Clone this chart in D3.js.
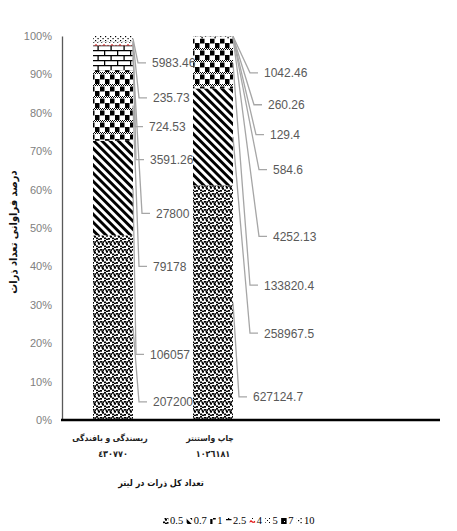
<!DOCTYPE html>
<html><head><meta charset="utf-8">
<script src="https://cdn.jsdelivr.net/npm/d3@7/dist/d3.min.js"></script>
<style>
html,body{margin:0;padding:0;background:#fff;}
svg{display:block;}
</style></head>
<body>
<svg id="chart" width="457" height="531"></svg>
<script>
// ---- data ----
const categories = ["ریسندگی و بافندگی", "چاپ واستنتر"];
const categoryTotals = ["٤٣٠٧٧٠", "١٠٢٦١٨١"];
const seriesNames = ["0.5", "0.7", "1", "2.5", "4", "5", "7", "10"];
const size05 = [207200, 627124.7];
const size07 = [106057, 258967.5];
const size1 = [79178, 133820.4];
const size25 = [27800, 4252.13];
const size4 = [3591.26, 584.6];
const size5 = [724.53, 129.4];
const size7 = [235.73, 260.26];
const size10 = [5983.46, 1042.46];
const yTicks = [0, 0.1, 0.2, 0.3, 0.4, 0.5, 0.6, 0.7, 0.8, 0.9, 1];
const yTitle = "درصد فراوانی تعداد ذرات";
const xTitle = "تعداد کل ذرات در لیتر";

// label callout placement (axis fraction, offset from bar edge) per category, series order
const calloutLeft = [[0.047,20],[0.171,17],[0.400,20],[0.538,23],[0.678,17],[0.764,16],[0.839,20],[0.930,19]];
const calloutRight = [[0.060,20],[0.226,31],[0.351,31],[0.478,40],[0.652,40],[0.743,37],[0.821,35],[0.904,31]];
const callouts = [calloutLeft, calloutRight];

const seriesValues = [size05, size07, size1, size25, size4, size5, size7, size10];
const table = categories.map((c, i) => {
  const row = {category: c, index: i};
  seriesNames.forEach((s, j) => row[s] = seriesValues[j][i]);
  return row;
});

const svg = d3.select("#chart");
const defs = svg.append("defs");
const AR = "'DejaVu Sans Condensed', 'DejaVu Sans', sans-serif";

// ---- patterns ----
function pat(id, w, h, transform) {
  const p = defs.append("pattern").attr("id", id).attr("patternUnits", "userSpaceOnUse")
    .attr("width", w).attr("height", h);
  if (transform) p.attr("patternTransform", transform);
  p.append("rect").attr("width", w).attr("height", h).attr("fill", "#fff");
  return p;
}
// 0.5 dense random dots
{
  const p = pat("p0", 8, 8);
  [[0,0],[4,1],[2,3],[6,4],[0,5.5],[4,6],[6.3,1.2],[2,6.6],[1.5,1.6],[5.5,2.8]].forEach(([x,y]) =>
    p.append("rect").attr("x", x).attr("y", y).attr("width", 2).attr("height", 1.7).attr("fill", "#000"));
}
// 0.7 diagonal stripes
{
  const p = pat("p1", 5.8, 8, "rotate(-45)");
  p.append("rect").attr("x", 0).attr("y", 0).attr("width", 2.9).attr("height", 8).attr("fill", "#000");
}
// 1 checker with dotted bands
{
  const p = pat("p2", 10, 12);
  for (let x = 0; x < 10; x += 2) {
    p.append("rect").attr("x", x).attr("y", 0).attr("width", 1).attr("height", 1).attr("fill", "#000");
    p.append("rect").attr("x", x + 1).attr("y", 1).attr("width", 1).attr("height", 1).attr("fill", "#000");
  }
  p.append("rect").attr("x", 0).attr("y", 2.5).attr("width", 4.5).attr("height", 5).attr("fill", "#000");
  p.append("rect").attr("x", 5).attr("y", 7).attr("width", 4.5).attr("height", 5).attr("fill", "#000");
}
// 2.5 bricks
{
  const p = pat("p3", 13, 10);
  p.append("path").attr("d", "M0,0.6H13M0,5.6H13M0.6,0.6V5.6M7.1,5.6V10")
    .attr("stroke", "#000").attr("stroke-width", 1.3).attr("fill", "none");
}
// 4 red waves
{
  const p = pat("p4", 8, 6);
  p.append("path").attr("d", "M0,2.5 Q2,5.5 4,3.5 Q6,5.5 8,2.5").attr("stroke", "#e00000")
    .attr("stroke-width", 1.1).attr("fill", "none");
  p.append("rect").attr("x", 1).attr("y", 0).attr("width", 1).attr("height", 1).attr("fill", "#000");
  p.append("rect").attr("x", 5).attr("y", 0).attr("width", 1).attr("height", 1).attr("fill", "#000");
}
// 5 sparse dots
{
  const p = pat("p5", 4, 4);
  p.append("rect").attr("x", 0).attr("y", 0).attr("width", 1).attr("height", 1).attr("fill", "#000");
  p.append("rect").attr("x", 2).attr("y", 2).attr("width", 1).attr("height", 1).attr("fill", "#000");
}
// 7 dark
{
  const p = pat("p6", 4, 4);
  p.append("rect").attr("width", 4).attr("height", 4).attr("fill", "#000");
  p.append("rect").attr("x", 1).attr("y", 1).attr("width", 1).attr("height", 1).attr("fill", "#fff");
}
// 10 dots
{
  const p = pat("p7", 5, 4);
  p.append("rect").attr("x", 0).attr("y", 0).attr("width", 1.2).attr("height", 1.2).attr("fill", "#000");
  p.append("rect").attr("x", 2.5).attr("y", 2).attr("width", 1.2).attr("height", 1.2).attr("fill", "#000");
}
const fills = seriesNames.map((s, i) => `url(#p${i})`);

// ---- scales ----
const x = d3.scaleBand().domain(categories).range([63, 263]).paddingInner(0.6).paddingOuter(0.3);
const y = d3.scaleLinear().domain([0, 1]).range([420, 36]);

const stack = d3.stack().keys(seriesNames).offset(d3.stackOffsetExpand);
const stacked = stack(table);

// bars
const g = svg.append("g");
stacked.forEach((layer, si) => {
  g.selectAll(null).data(layer).enter().append("rect")
    .attr("x", d => x(d.data.category))
    .attr("width", x.bandwidth())
    .attr("y", d => y(d[1]))
    .attr("height", d => Math.max(0, y(d[0]) - y(d[1])))
    .attr("fill", fills[si]);
});

// y axis
const yAxis = d3.axisLeft(y).tickValues(yTicks).tickFormat(d3.format(".0%")).tickSize(0).tickPadding(10);
const ya = svg.append("g").attr("transform", "translate(62,0)").call(yAxis);
ya.select(".domain").attr("stroke", "#595959").attr("stroke-width", 1.3);
ya.selectAll("text").attr("font-family", "Liberation Sans, Arial, sans-serif").attr("font-size", 11).attr("fill", "#808080");

// x axis baseline
svg.append("line").attr("x1", 61).attr("x2", 440).attr("y1", y(0)).attr("y2", y(0))
  .attr("stroke", "#000").attr("stroke-width", 2.4);

// callouts
stacked.forEach((layer, si) => {
  layer.forEach((d, ci) => {
    const [frac, dx] = callouts[ci][si];
    const bx = x(d.data.category) + x.bandwidth();
    const lx = bx + dx;
    const ly = y(frac);
    const my = y((d[0] + d[1]) / 2);
    svg.append("path")
      .attr("d", `M${bx},${my}L${lx - 14},${ly}L${lx - 6},${ly}`)
      .attr("fill", "none").attr("stroke", "#a6a6a6").attr("stroke-width", 1.3);
    svg.append("text").attr("x", lx).attr("y", ly).attr("dy", "0.36em")
      .attr("font-family", "Liberation Sans, Arial, sans-serif").attr("font-size", 12)
      .attr("fill", "#595959").text(String(d.data[seriesNames[si]]));
  });
});

// category labels
categories.forEach((c, i) => {
  const cx = x(c) + x.bandwidth() / 2;
  svg.append("text").attr("x", cx - 3).attr("y", 441).attr("text-anchor", "middle")
    .attr("font-family", AR).attr("font-stretch", "condensed").attr("font-size", 8.5).attr("font-weight", "bold")
    .attr("fill", "#222").text(c);
  svg.append("text").attr("x", cx).attr("y", 457).attr("text-anchor", "middle")
    .attr("font-family", AR).attr("font-stretch", "condensed").attr("font-size", 9).attr("font-weight", "bold")
    .attr("fill", "#222").text(categoryTotals[i]);
});

// axis titles
svg.append("text").attr("transform", "translate(17,232) rotate(-90)").attr("text-anchor", "middle")
  .attr("font-family", AR).attr("font-size", 11).attr("font-weight", "bold")
  .attr("fill", "#111").text(yTitle);
svg.append("text").attr("x", 161).attr("y", 486).attr("text-anchor", "middle")
  .attr("font-family", AR).attr("font-stretch", "condensed").attr("font-size", 9).attr("font-weight", "bold")
  .attr("fill", "#111").text(xTitle);

// legend
const lg = svg.append("g").attr("transform", "translate(163,524)");
let lx = 0;
seriesNames.forEach((s, i) => {
  lg.append("rect").attr("x", lx).attr("y", -6).attr("width", 5.5).attr("height", 6).attr("fill", fills[i]);
  const t = lg.append("text").attr("x", lx + 7).attr("y", 0)
    .attr("font-family", "Liberation Serif, Times New Roman, serif").attr("font-size", 10.5)
    .attr("fill", "#000").text(s);
  lx += 7 + t.node().getComputedTextLength() + 3.5;
});
</script>
</body></html>
